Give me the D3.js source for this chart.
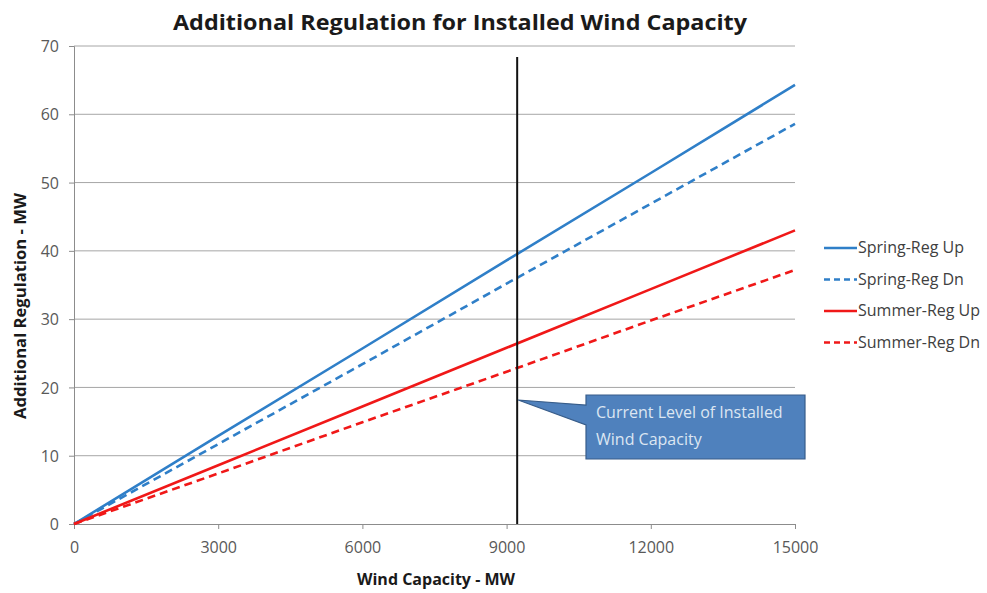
<!DOCTYPE html>
<html>
<head>
<meta charset="utf-8">
<script src="https://cdn.jsdelivr.net/npm/d3@7"></script>
<style>
  html, body { margin: 0; padding: 0; background: #fff; }
  svg { display: block; font-family: "Open Sans", "Liberation Sans", sans-serif; }
</style>
</head>
<body>
<div id="chart"></div>
<script>
// ---------------------------------------------------------------------------
// Additional regulation vs installed wind capacity
// ---------------------------------------------------------------------------

const capacity = [0, 3000, 6000, 9000, 12000, 15000];
const springUp = [0, 12.9, 25.7, 38.6, 51.4, 64.3];
const springDn = [0, 11.7, 23.4, 35.2, 46.9, 58.6];
const summerUp = [0, 8.6, 17.2, 25.8, 34.4, 43.0];
const summerDn = [0, 7.4, 14.9, 22.3, 29.8, 37.2];
const seriesNames = ['Spring-Reg Up', 'Spring-Reg Dn', 'Summer-Reg Up', 'Summer-Reg Dn'];
const xTicks = [0, 3000, 6000, 9000, 12000, 15000];
const yTicks = [0, 10, 20, 30, 40, 50, 60, 70];
const currentLevel = 9220;
const currentLevelTop = 68.4;
const calloutLines = ['Current Level of Installed', 'Wind Capacity'];

const W = 987, H = 593;
const margin = { top: 46, right: 192, bottom: 69, left: 74 };
const width = W - margin.left - margin.right;
const height = H - margin.top - margin.bottom;

const svg = d3.select('#chart').append('svg')
  .attr('width', W).attr('height', H);

// Title
svg.append('text')
  .attr('x', 460).attr('y', 30)
  .attr('text-anchor', 'middle')
  .attr('font-size', '22px').attr('font-weight', 'bold')
  .attr('fill', '#1a1a1a')
  .attr('textLength', 574).attr('lengthAdjust', 'spacingAndGlyphs')
  .text('Additional Regulation for Installed Wind Capacity');

const g = svg.append('g').attr('transform', `translate(${margin.left},${margin.top})`);

const x = d3.scaleLinear().domain([0, 15000]).range([0, width]);
const y = d3.scaleLinear().domain([0, 70]).range([height, 0]);

// Gridlines
g.selectAll('.grid').data(yTicks.filter(d => d > 0)).join('line')
  .attr('x1', 0).attr('x2', width)
  .attr('y1', d => y(d)).attr('y2', d => y(d))
  .attr('stroke', '#a6a6a6').attr('stroke-width', 1);

// Axes
const yAxis = g.append('g').call(d3.axisLeft(y).tickValues(yTicks).tickSize(5).tickPadding(10));
const xAxis = g.append('g').attr('transform', `translate(0,${height})`)
  .call(d3.axisBottom(x).tickValues(xTicks).tickFormat(d3.format('d')).tickSize(5).tickPadding(13));
[xAxis, yAxis].forEach(a => {
  a.select('.domain').attr('stroke', '#8c8c8c');
  a.selectAll('.tick line').attr('stroke', '#8c8c8c');
  a.selectAll('.tick text').attr('fill', '#595959').attr('font-size', '16px')
    .attr('font-family', '"Open Sans", sans-serif');
});
yAxis.selectAll('.tick text').attr('dy', '0.35em');

// Axis titles
svg.append('text')
  .attr('x', 436).attr('y', 585)
  .attr('text-anchor', 'middle')
  .attr('font-size', '16px').attr('font-weight', 'bold').attr('fill', '#1a1a1a')
  .text('Wind Capacity - MW');
svg.append('text')
  .attr('transform', 'translate(26,306) rotate(-90)')
  .attr('text-anchor', 'middle')
  .attr('font-size', '16px').attr('font-weight', 'bold').attr('fill', '#1a1a1a')
  .attr('textLength', 226).attr('lengthAdjust', 'spacingAndGlyphs')
  .text('Additional Regulation - MW');

// Series
const blue = '#2f7fc8', red = '#f01818';
const series = [
  { name: seriesNames[0], values: springUp, color: blue, dash: null },
  { name: seriesNames[1], values: springDn, color: blue, dash: '8,5' },
  { name: seriesNames[2], values: summerUp, color: red, dash: null },
  { name: seriesNames[3], values: summerDn, color: red, dash: '8,5' }
];

const line = d3.line().x((d, i) => x(capacity[i])).y(d => y(d));

series.forEach(s => {
  g.append('path')
    .datum(s.values)
    .attr('d', line)
    .attr('fill', 'none')
    .attr('stroke', s.color)
    .attr('stroke-width', 2.6)
    .attr('stroke-dasharray', s.dash);
});

// Current level marker
g.append('line')
  .attr('x1', x(currentLevel)).attr('x2', x(currentLevel))
  .attr('y1', y(currentLevelTop)).attr('y2', y(0))
  .attr('stroke', '#111').attr('stroke-width', 2);

// Callout
const bx = 586, by = 395, bw = 219, bh = 64;
const tipX = margin.left + x(currentLevel) + 1, tipY = 400;
svg.append('path')
  .attr('d', `M${bx},${by} L${bx + bw},${by} L${bx + bw},${by + bh} L${bx},${by + bh} L${bx},${by + 30} L${tipX},${tipY} L${bx},${by + 10} Z`)
  .attr('fill', '#4f81bd').attr('stroke', '#385d8a').attr('stroke-width', 1.2);
svg.append('g').selectAll('text').data(calloutLines).join('text')
  .attr('x', bx + 10).attr('y', (d, i) => by + 23 + i * 27)
  .attr('font-size', '16px').attr('fill', '#dce6f2')
  .text(d => d);

// Legend
const legend = svg.append('g').attr('transform', 'translate(824,248)');
series.forEach((s, i) => {
  const row = legend.append('g').attr('transform', `translate(0,${i * 31.5})`);
  row.append('line')
    .attr('x1', 0).attr('x2', 33).attr('y1', 0).attr('y2', 0)
    .attr('stroke', s.color).attr('stroke-width', 2.6)
    .attr('stroke-dasharray', s.dash ? '6,4' : null);
  row.append('text')
    .attr('x', 34).attr('y', 5)
    .attr('font-size', '16px').attr('fill', '#404040')
    .text(s.name);
});
</script>
</body>
</html>
